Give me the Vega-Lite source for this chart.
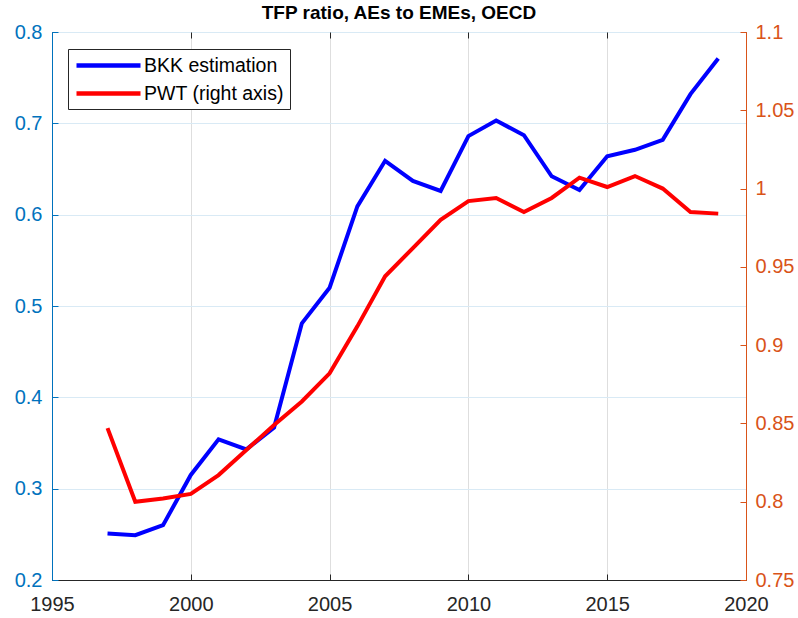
{
  "$schema": "https://vega.github.io/schema/vega-lite/v6.json",
  "width": 694,
  "height": 548,
  "autosize": {"type": "none"},
  "padding": {"left": 52, "top": 32, "right": 52, "bottom": 38},
  "background": "white",
  "config": {
    "font": "Liberation Sans",
    "view": {"stroke": "#262626", "strokeWidth": 1}
  },
  "title": {
    "text": "TFP ratio, AEs to EMEs, OECD",
    "fontSize": 19,
    "fontWeight": "bold",
    "color": "#000000",
    "anchor": "middle",
    "offset": -1
  },
  "data": {
    "values": [
      {"year": 1997, "series": "BKK estimation", "value": 0.251},
      {"year": 1998, "series": "BKK estimation", "value": 0.249},
      {"year": 1999, "series": "BKK estimation", "value": 0.260},
      {"year": 2000, "series": "BKK estimation", "value": 0.315},
      {"year": 2001, "series": "BKK estimation", "value": 0.354},
      {"year": 2002, "series": "BKK estimation", "value": 0.343},
      {"year": 2003, "series": "BKK estimation", "value": 0.367},
      {"year": 2004, "series": "BKK estimation", "value": 0.481},
      {"year": 2005, "series": "BKK estimation", "value": 0.520},
      {"year": 2006, "series": "BKK estimation", "value": 0.609},
      {"year": 2007, "series": "BKK estimation", "value": 0.659},
      {"year": 2008, "series": "BKK estimation", "value": 0.637},
      {"year": 2009, "series": "BKK estimation", "value": 0.626},
      {"year": 2010, "series": "BKK estimation", "value": 0.686},
      {"year": 2011, "series": "BKK estimation", "value": 0.703},
      {"year": 2012, "series": "BKK estimation", "value": 0.687},
      {"year": 2013, "series": "BKK estimation", "value": 0.642},
      {"year": 2014, "series": "BKK estimation", "value": 0.627},
      {"year": 2015, "series": "BKK estimation", "value": 0.664},
      {"year": 2016, "series": "BKK estimation", "value": 0.671},
      {"year": 2017, "series": "BKK estimation", "value": 0.682},
      {"year": 2018, "series": "BKK estimation", "value": 0.732},
      {"year": 2019, "series": "BKK estimation", "value": 0.771},
      {"year": 1997, "series": "PWT (right axis)", "value": 0.847},
      {"year": 1998, "series": "PWT (right axis)", "value": 0.800},
      {"year": 1999, "series": "PWT (right axis)", "value": 0.802},
      {"year": 2000, "series": "PWT (right axis)", "value": 0.805},
      {"year": 2001, "series": "PWT (right axis)", "value": 0.817},
      {"year": 2002, "series": "PWT (right axis)", "value": 0.833},
      {"year": 2003, "series": "PWT (right axis)", "value": 0.849},
      {"year": 2004, "series": "PWT (right axis)", "value": 0.864},
      {"year": 2005, "series": "PWT (right axis)", "value": 0.882},
      {"year": 2006, "series": "PWT (right axis)", "value": 0.912},
      {"year": 2007, "series": "PWT (right axis)", "value": 0.944},
      {"year": 2008, "series": "PWT (right axis)", "value": 0.962},
      {"year": 2009, "series": "PWT (right axis)", "value": 0.980},
      {"year": 2010, "series": "PWT (right axis)", "value": 0.992},
      {"year": 2011, "series": "PWT (right axis)", "value": 0.994},
      {"year": 2012, "series": "PWT (right axis)", "value": 0.985},
      {"year": 2013, "series": "PWT (right axis)", "value": 0.994},
      {"year": 2014, "series": "PWT (right axis)", "value": 1.007},
      {"year": 2015, "series": "PWT (right axis)", "value": 1.001},
      {"year": 2016, "series": "PWT (right axis)", "value": 1.008},
      {"year": 2017, "series": "PWT (right axis)", "value": 1.000},
      {"year": 2018, "series": "PWT (right axis)", "value": 0.985},
      {"year": 2019, "series": "PWT (right axis)", "value": 0.984}
    ]
  },
  "layer": [
    {
      "transform": [{"filter": "datum.series === 'BKK estimation'"}],
      "mark": {"type": "line", "strokeWidth": 4, "clip": true},
      "encoding": {
        "x": {
          "field": "year",
          "type": "quantitative",
          "scale": {"domain": [1995, 2020], "nice": false, "zero": false},
          "axis": {
            "title": null,
            "values": [1995, 2000, 2005, 2010, 2015, 2020],
            "format": "d",
            "labelFontSize": 20,
            "labelColor": "#262626",
            "domainColor": "#262626",
            "tickColor": "#262626",
            "tickSize": -6,
            "labelPadding": 20,
            "grid": true,
            "gridColor": "#DEDEDE",
            "labelFlush": false
          }
        },
        "y": {
          "field": "value",
          "type": "quantitative",
          "scale": {"domain": [0.2, 0.8], "nice": false, "zero": false},
          "axis": {
            "title": null,
            "orient": "left",
            "values": [0.2, 0.3, 0.4, 0.5, 0.6, 0.7, 0.8],
            "format": ".1f",
            "labelFontSize": 20,
            "labelColor": "#0072BD",
            "domainColor": "#0072BD",
            "tickColor": "#0072BD",
            "tickSize": -6,
            "labelPadding": 16,
            "grid": true,
            "gridColor": "#D9EAF5",
            "labelFlush": false
          }
        },
        "color": {
          "field": "series",
          "type": "nominal",
          "scale": {"domain": ["BKK estimation", "PWT (right axis)"], "range": ["#0000FF", "#FF0000"]},
          "legend": {
            "title": null,
            "orient": "none",
            "legendX": 16,
            "legendY": 17,
            "strokeColor": "#262626",
            "fillColor": "white",
            "padding": 6,
            "rowPadding": 8,
            "symbolType": "M-1,0H7",
            "symbolSize": 256,
            "symbolStrokeWidth": 4.5,
            "labelFontSize": 19.5,
            "labelColor": "#000000",
            "labelOffset": 49,
            "labelLimit": 300
          }
        }
      }
    },
    {
      "transform": [{"filter": "datum.series === 'PWT (right axis)'"}],
      "mark": {"type": "line", "strokeWidth": 4, "clip": true},
      "encoding": {
        "x": {
          "field": "year",
          "type": "quantitative",
          "scale": {"domain": [1995, 2020], "nice": false, "zero": false},
          "axis": {
            "orient": "top",
            "title": null,
            "values": [1995, 2000, 2005, 2010, 2015, 2020],
            "labels": false,
            "domain": false,
            "grid": false,
            "tickColor": "#262626",
            "tickSize": -6
          }
        },
        "y": {
          "field": "value",
          "type": "quantitative",
          "scale": {"domain": [0.75, 1.1], "nice": false, "zero": false},
          "axis": {
            "title": null,
            "orient": "right",
            "values": [0.75, 0.8, 0.85, 0.9, 0.95, 1, 1.05, 1.1],
            "format": "~g",
            "labelFontSize": 20,
            "labelColor": "#D95319",
            "domainColor": "#D95319",
            "tickColor": "#D95319",
            "tickSize": -6,
            "labelPadding": 15,
            "grid": false,
            "labelFlush": false
          }
        },
        "color": {
          "field": "series",
          "type": "nominal",
          "scale": {"domain": ["BKK estimation", "PWT (right axis)"], "range": ["#0000FF", "#FF0000"]}
        }
      }
    }
  ],
  "resolve": {"scale": {"y": "independent"}, "axis": {"x": "independent", "y": "independent"}}
}
